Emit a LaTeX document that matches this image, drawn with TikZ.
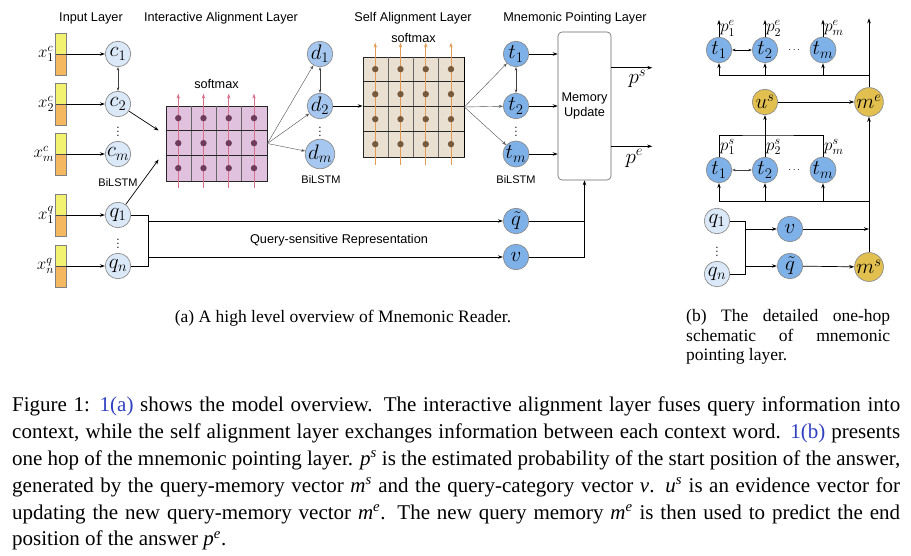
\RequirePackage{fix-cm}
\documentclass[tikz,border=0pt]{standalone}
\usepackage{amsmath}
\usepackage{fontspec}
\newfontfamily\labfont{Liberation Sans}
\newfontfamily\capfont{Liberation Serif}
\usetikzlibrary{arrows.meta, calc}
\definecolor{cpale}{HTML}{DBE8F7}
\definecolor{cmid}{HTML}{A6C7EF}
\definecolor{cblue}{HTML}{7FB1E9}
\definecolor{cgold}{HTML}{E2C050}
\definecolor{barY}{HTML}{F2F270}
\definecolor{barO}{HTML}{F4B860}
\definecolor{gridP}{HTML}{E0C2DF}
\definecolor{dotP}{HTML}{6E3B5C}
\definecolor{arP}{HTML}{D9708A}
\definecolor{gridB}{HTML}{EAE0D2}
\definecolor{dotB}{HTML}{77593B}
\definecolor{arB}{HTML}{E39A55}
\definecolor{linkblue}{HTML}{2F3FC0}
\newcommand{\capv}[2]{\textit{#1}\textsuperscript{\textit{#2}}}

\begin{document}
\begin{tikzpicture}[x=1pt,y=-1pt,
  lbl/.style={font=\labfont\fontsize{12.7}{14.5}\selectfont},
  bil/.style={font=\labfont\fontsize{11}{13}\selectfont},
  nd/.style={circle,draw=black!45,line width=0.7pt,minimum size=25.5pt,inner sep=0pt,font=\fontsize{21}{23}\selectfont},
  bar/.style={draw=black!50,fill=barO,minimum width=11pt,minimum height=42pt,inner sep=0pt,
    path picture={\fill[barY] (path picture bounding box.north west) rectangle (path picture bounding box.east);
      \draw[black!70] (path picture bounding box.west) -- (path picture bounding box.east);}},
  ar/.style={-{Stealth[length=5pt,width=3.5pt]},line width=0.7pt},
  dar/.style={{Stealth[length=3.5pt,width=2.5pt]}-{Stealth[length=3.5pt,width=2.5pt]},line width=0.5pt,black!75},
  fan/.style={-{Stealth[length=4pt,width=3pt,open]},line width=0.4pt,black!70},
  dts/.style={font=\fontsize{14}{16}\selectfont,inner sep=0pt},
  pl/.style={font=\fontsize{17}{19}\selectfont,inner sep=1pt},
  capf/.style={font=\capfont\fontsize{17.5}{19.8}\selectfont}]
\useasboundingbox (0,0) rectangle (911,556);

\node[lbl] at (91,18) {Input Layer};
\node[lbl] at (221,18) {Interactive Alignment Layer};
\node[lbl] at (413,18) {Self Alignment Layer};
\node[lbl] at (575,18) {Mnemonic Pointing Layer};

% input layer
\foreach \n/\y/\s/\k in {c1/54/c/1, c2/104/c/2, cm/154/c/m, q1/215/q/1, qn/266/q/n}{
  \node[bar] (x\n) at (60.5,\y) {};
  \node[anchor=east,inner sep=0.5pt,font=\fontsize{17}{19}\selectfont] at (x\n.west) {$x^{\s}_{\k}$};
  \node[nd,fill=cpale] (\n) at (118,\y) {$\s_{\k}$};
  \draw[ar] (x\n) -- (\n);
}
\draw[dar] (c1) -- (c2);
\node[dts] at (118,129) {$\vdots$};
\node[dts] at (118,241) {$\vdots$};
\node[bil] at (118,183) {BiLSTM};

% interactive alignment
\node[draw=black!85,line width=0.7pt,fill=gridP,minimum width=101pt,minimum height=75pt,inner sep=0pt] (ia) at (216.5,143.5) {};
\foreach \i in {1,2,3} \draw[black!60] ($(ia.north west)+(\i*25.25,0)$) -- ($(ia.south west)+(\i*25.25,0)$);
\foreach \j in {1,2} \draw[black!85] ($(ia.north west)+(0,\j*25)$) -- ($(ia.north east)+(0,\j*25)$);
\foreach \i in {0,...,3}{
  \draw[-{Stealth[length=5pt,width=3.5pt]},line width=0.9pt,arP] ($(ia.south west)+(12.6+\i*25.25,7)$) -- ($(ia.north west)+(12.6+\i*25.25,-12)$);
  \foreach \j in {0,1,2} \fill[dotP] ($(ia.north west)+(12.6+\i*25.25,12.5+\j*25)$) circle (3.2);
}
\node[lbl] at ($(ia.north)+(0,-22)$) {softmax};
\draw[ar] (c2) -- ($(ia.west)+(-7,-13)$);
\draw[ar] (q1) -- ($(ia.west)+(-7,16)$);

\foreach \n/\y/\k in {d1/54/1, d2/106/2, dm/154/m}{
  \node[nd,fill=cmid] (\n) at (320,\y) {$d_{\k}$};
  \draw[fan] (ia.east) -- (\n);
}
\draw[dar] (d1) -- (d2);
\node[dts] at (320,129) {$\vdots$};
\node[bil] at (321,180) {BiLSTM};

% self alignment
\node[draw=black!85,line width=0.7pt,fill=gridB,minimum width=101pt,minimum height=100pt,inner sep=0pt] (sa) at (413.5,107) {};
\foreach \i in {1,2,3} \draw[black!60] ($(sa.north west)+(\i*25.25,0)$) -- ($(sa.south west)+(\i*25.25,0)$);
\foreach \j in {1,2,3} \draw[black!85] ($(sa.north west)+(0,\j*25)$) -- ($(sa.north east)+(0,\j*25)$);
\draw[line width=1.6pt] (sa.north east) -- (sa.south east);
\foreach \i in {0,...,3}{
  \draw[-{Stealth[length=5pt,width=3.5pt]},line width=0.9pt,arB] ($(sa.south west)+(12.6+\i*25.25,8)$) -- ($(sa.north west)+(12.6+\i*25.25,-14)$);
  \foreach \j in {0,...,3} \fill[dotB] ($(sa.north west)+(12.6+\i*25.25,12.5+\j*25)$) circle (3.2);
}
\node[lbl] at ($(sa.north)+(0,-19)$) {softmax};
\draw[ar] (d2) -- (d2 -| sa.west);

% mnemonic pointing
\foreach \n/\y/\k in {t1/54/1, t2/106/2, tm/154/m}{
  \node[nd,fill=cblue] (\n) at (516,\y) {$t_{\k}$};
  \draw[fan] (sa.east) -- (\n);
}
\draw[dar] (t1) -- (t2);
\node[dts] at (516,129) {$\vdots$};
\node[bil] at (516,180) {BiLSTM};

\node[lbl,draw=black!60,line width=0.6pt,rounded corners=4pt,minimum width=53pt,minimum height=148pt,align=center] (mu) at (584.5,106) {Memory\\Update};
\foreach \n in {t1,t2,tm} \draw[ar] (\n) -- (\n -| mu.west);
\draw[ar] ($(mu.north east)+(0,36)$) -- ++(41,0) coordinate (ps);
\node[font=\fontsize{21}{23}\selectfont] at ($(ps)+(-15,11)$) {$p^s$};
\draw[ar] ($(mu.south east)+(0,-34)$) -- ++(41,0) coordinate (pe);
\node[font=\fontsize{21}{23}\selectfont] at ($(pe)+(-18,12)$) {$p^e$};

\node[nd,fill=cblue] (qt) at (516,221) {$\tilde{q}$};
\node[nd,fill=cblue] (v) at (516,257) {$v$};
\draw[line width=0.7pt] (q1.east) -- ++(17.5,0) coordinate (qa) |- (qn.east);
\draw[ar] (qa |- qt) -- (qt);
\draw[ar] (qa |- v) -- (v);
\node[lbl] at (339,240) {Query-sensitive Representation};
\draw[line width=0.7pt] (qt) -- (qt -| mu.south);
\draw[ar] (v) -| (mu.south);

% one hop (b)
\foreach \n/\x/\k in {et1/719/1, et2/765/2, etm/823/m}{
  \node[nd,fill=cblue] (\n) at (\x,50) {$t_{\k}$};
  \draw[ar] (\n.north) -- ++(0,-17) node[midway,right,pl] {$p^e_{\k}$};
}
\node at (795,50) {$\cdots$};
\draw[dar,line width=0.8pt,black] (et1) -- (et2);
\node[nd,fill=cgold] (us) at (765,102) {$u^s$};
\node[nd,fill=cgold] (me) at (869,102) {$m^e$};
\draw[ar] (us) -- (me);
\draw[ar] (me.north) -- ++(0,-69) coordinate (mout);
\coordinate (eb) at (869,75);
\draw[line width=0.7pt] (eb) -- (eb -| et1);
\foreach \n in {et1,et2,etm} \draw[ar] (\n |- eb) -- (\n);

\foreach \n/\x/\k in {st1/719/1, st2/765/2, stm/823/m}{
  \node[nd,fill=cblue] (\n) at (\x,170) {$t_{\k}$};
  \node[pl,anchor=west] at ($(\n.north)+(0,-10)$) {$p^s_{\k}$};
}
\node at (795,170) {$\cdots$};
\draw[dar] (st1) -- (st2);
\coordinate (sb) at (765,135);
\draw[line width=0.7pt] (st1.north) |- (sb) -| (stm.north);
\draw[ar] (st2) -- (us);
\coordinate (mb) at (869,201);
\draw[line width=0.7pt] (mb) -- (mb -| st1);
\foreach \n in {st1,st2,stm} \draw[ar] (\n |- mb) -- (\n);

\node[nd,fill=cpale] (bq1) at (717,221) {$q_1$};
\node[nd,fill=cpale] (bqn) at (717,274) {$q_n$};
\node[dts] at (717,249) {$\vdots$};
\node[nd,fill=cblue] (bv) at (790,229) {$v$};
\node[nd,fill=cblue] (bqt) at (790,266) {$\tilde{q}$};
\node[nd,fill=cgold] (ms) at (869,267) {$m^s$};
\draw[line width=0.7pt] (bq1.east) -- ++(15,0) coordinate (bqa) |- (bqn.east);
\draw[ar] (bqa |- bv) -- (bv);
\draw[ar] (bqa |- bqt) -- (bqt);
\draw[ar] (bv) -- (bv -| ms);
\draw[ar] (bqt) -- (ms);
\draw[ar] (ms) -- (me);

% captions
\node[capf] (capa) at (343,318) {(a) A high level overview of Mnemonic Reader.};
\node[capf,anchor=north west,text width=204pt,align=justify,inner sep=0pt] (capb) at (686,309)
  {(b) The detailed one-hop\linebreak schematic of mnemonic\linebreak pointing layer.};
\node[anchor=north west,text width=888pt,align=justify,inner sep=0pt,font=\capfont\fontsize{21}{26.8}\selectfont] (cap) at (12,397)
  {\tolerance=9999\hyphenpenalty=10000 Figure 1: \textcolor{linkblue}{1(a)} shows the model overview. The interactive alignment layer fuses query information into\linebreak
  context, while the self alignment layer exchanges information between each context word. \textcolor{linkblue}{1(b)} presents\linebreak
  one hop of the mnemonic pointing layer. \capv{p}{s} is the estimated probability of the start position of the answer,\linebreak
  generated by the query-memory vector \capv{m}{s} and the query-category vector \textit{v}. \capv{u}{s} is an evidence vector for\linebreak
  updating the new query-memory vector \capv{m}{e}. The new query memory \capv{m}{e} is then used to predict the end\linebreak
  position of the answer \capv{p}{e}.};
\end{tikzpicture}
\end{document}
